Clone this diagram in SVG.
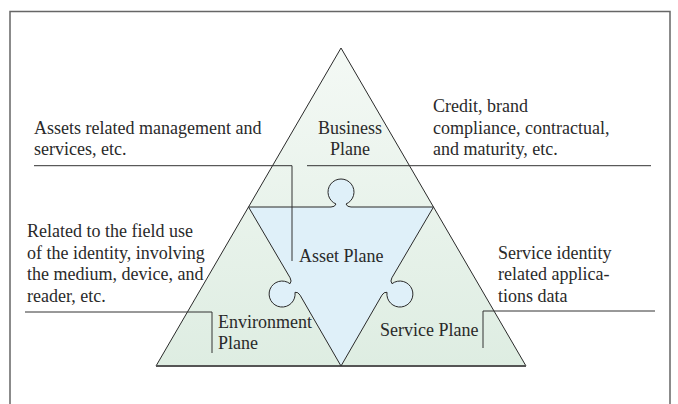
<svg xmlns="http://www.w3.org/2000/svg" width="678" height="404" viewBox="0 0 678 404">
<defs>
<linearGradient id="gGreen" x1="0" y1="0" x2="0" y2="1">
<stop offset="0" stop-color="#f4f9f5"/>
<stop offset="1" stop-color="#deede2"/>
</linearGradient>
<style>
.t{font-family:"Liberation Serif","Times New Roman",serif;font-size:18px;fill:#2a2a2a}
.ln{fill:none;stroke:#333;stroke-width:1}
.ol{stroke:#2a2a2a;stroke-width:1;stroke-linejoin:miter}
</style>
</defs>
<rect width="678" height="404" fill="#ffffff"/>
<path d="M10,404 V11.5 H670 V404" fill="none" stroke="#666" stroke-width="1.5"/>

<g id="outer-triangle">
<path class="ol" d="M341,48 L526,366 L156,366 Z" fill="url(#gGreen)"/>
<line x1="156" y1="366" x2="526" y2="366" stroke="#555" stroke-width="2"/>
</g>

<g id="asset-plane">
<path class="ol" fill="#dff0f9" d="M248.5,207 L331,207 Q335,207 336,204 A13,13 0 1 1 346,204 Q347,207 351,207 L433.5,207 L391.9,277.8 Q389.9,281.3 392,283.7 A13,13 0 1 1 387,292.3 Q383.9,291.7 381.9,295.2 L341,366 L300.1,295.2 Q298.1,291.7 295,292.3 A13,13 0 1 1 290,283.7 Q292.1,281.3 290.1,277.8 Z"/>
<text class="t" x="299" y="262">Asset Plane</text>
</g>

<g id="business-plane">
<text class="t" x="350" y="133.5" text-anchor="middle">Business</text>
<text class="t" x="350" y="155" text-anchor="middle">Plane</text>
</g>

<g id="environment-plane">
<text class="t" x="218" y="328">Environment</text>
<text class="t" x="218" y="349">Plane</text>
</g>

<g id="service-plane">
<text class="t" x="380" y="336">Service Plane</text>
</g>

<g id="note-assets">
<text class="t" x="34" y="133.5">Assets related management and</text>
<text class="t" x="34" y="155">services, etc.</text>
</g>

<g id="note-credit">
<text class="t" x="433" y="112">Credit, brand</text>
<text class="t" x="433" y="133.5">compliance, contractual,</text>
<text class="t" x="433" y="155">and maturity, etc.</text>
</g>

<g id="note-field">
<text class="t" x="27" y="237">Related to the field use</text>
<text class="t" x="27" y="258.5">of the identity, involving</text>
<text class="t" x="27" y="280">the medium, device, and</text>
<text class="t" x="27" y="301.5">reader, etc.</text>
</g>

<g id="note-service">
<text class="t" x="498" y="258.5">Service identity</text>
<text class="t" x="498" y="280">related applica-</text>
<text class="t" x="498" y="301.5">tions data</text>
</g>

<g id="connectors">
<path class="ln" d="M34,165.7 H292 V261"/>
<path class="ln" d="M307,165.7 H651"/>
<path class="ln" d="M25,312 H212 V353"/>
<path class="ln" d="M655,311 H483 V348"/>
</g>
</svg>
